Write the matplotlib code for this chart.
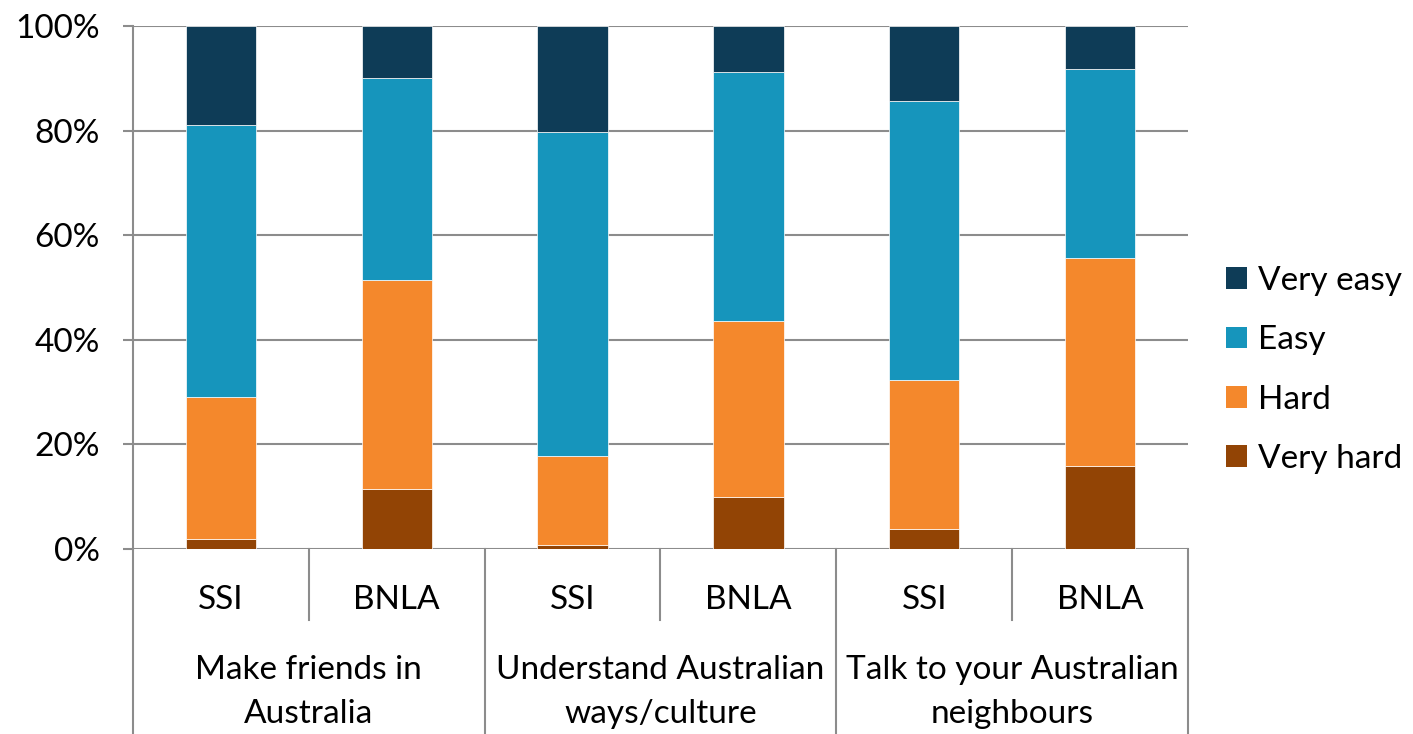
import matplotlib
matplotlib.use("Agg")
import matplotlib.pyplot as plt
from matplotlib.patches import Patch
import numpy as np

plt.rcParams['font.family'] = ['Lato', 'DejaVu Sans']

# Survey results: share of respondents (%) per difficulty level
bar_labels = ["SSI", "BNLA", "SSI", "BNLA", "SSI", "BNLA"]
group_labels = ["Make friends in\nAustralia",
                "Understand Australian\nways/culture",
                "Talk to your Australian\nneighbours"]
very_hard = [2.0, 11.4, 0.8, 10.0, 3.8, 15.8]
hard = [27.1, 40.0, 17.0, 33.6, 28.6, 39.9]
easy = [51.9, 38.7, 62.0, 47.6, 53.3, 36.1]
very_easy = [19.0, 9.9, 20.2, 8.8, 14.3, 8.2]
y_ticks = [0, 20, 40, 60, 80, 100]

series = [("Very hard", very_hard, "#924405"),
          ("Hard", hard, "#F4882C"),
          ("Easy", easy, "#1695BC"),
          ("Very easy", very_easy, "#0E3C57")]

GRAY = "#8c8c8c"
FS = 24

fig = plt.figure(figsize=(14.13, 7.34), dpi=100)
ax = fig.add_axes([133 / 1413, 185 / 734, 1055 / 1413, 523 / 734])

x = np.arange(len(bar_labels))
bottom = np.zeros(len(x))
for name, vals, color in series:
    vals = np.array(vals)
    ax.bar(x, vals, width=0.4, bottom=bottom, color=color,
           edgecolor="white", linewidth=0.5, label=name, zorder=3)
    bottom += vals

ax.set_xlim(-0.5, len(x) - 0.5)
ax.set_ylim(0, 100)
ax.set_yticks(y_ticks)
ax.set_yticklabels([f"{t}%" for t in y_ticks], fontsize=FS)
ax.tick_params(axis="y", direction="out", length=7, width=1.5, color=GRAY, pad=17)
ax.set_xticks([])

for s in ["top", "right", "bottom"]:
    ax.spines[s].set_visible(False)
ax.spines["left"].set_color(GRAY)
ax.spines["left"].set_linewidth(1.5)

for t in y_ticks:
    ax.axhline(t, color=GRAY, linewidth=1.5, zorder=1)

# Two-level category axis below the plot
trans = ax.get_xaxis_transform()
inner_depth = -71 / 523
outer_depth = -185 / 523
for i in range(len(x) + 1):
    xpos = i - 0.5
    depth = outer_depth if i % 2 == 0 else inner_depth
    ax.plot([xpos, xpos], [0, depth], transform=trans, color=GRAY,
            linewidth=1.5, clip_on=False, zorder=2)

for xi, lab in zip(x, bar_labels):
    ax.text(xi, -51 / 523, lab, transform=trans, ha="center", va="center",
            fontsize=FS)

for g, lab in enumerate(group_labels):
    ax.text(2 * g + 0.5, -143 / 523, lab, transform=trans, ha="center",
            va="center", fontsize=FS, linespacing=1.62)

handles = [Patch(facecolor=c, edgecolor="none", label=n) for n, _, c in reversed(series)]
fig.legend(handles=handles, loc="center left", bbox_to_anchor=(1226 / 1413, 1 - 370 / 734),
           frameon=False, fontsize=FS, handlelength=0.62, handleheight=0.62,
           handletextpad=0.35, labelspacing=0.88, borderpad=0, borderaxespad=0)

fig.savefig("out.png", dpi=100)
